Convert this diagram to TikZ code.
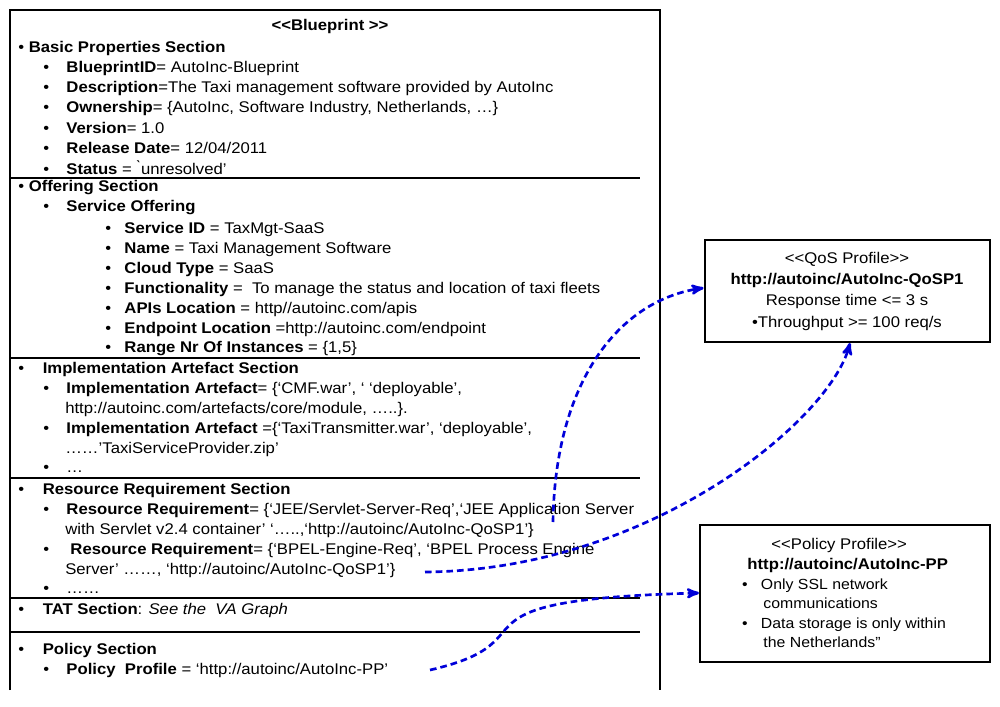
\documentclass[tikz,border=0pt]{standalone}
\usepackage{fontspec}
\setmainfont{Liberation Sans}[FakeStretch=1.08]
\usetikzlibrary{positioning,arrows,calc}

\begin{document}
\begin{tikzpicture}[
      x=0.75pt, y=-0.75pt,
      >=stealth',
      every node/.style={font=\fontsize{11.6}{14}\selectfont, inner sep=0pt},
      txt/.style={anchor=west},
      link/.style={->, draw=blue!85!black, line width=2pt, dash pattern=on 5pt off 3pt}
    ]

    \useasboundingbox (0,0) rectangle (1000,707);

    % blueprint frame
    \draw [line width=1.5pt] (10,690) -- (10,10) -- (660,10) -- (660,690);
    \foreach \ly in {178,358,478,598,632}
      \draw [line width=1pt] (10,\ly) -- (640,\ly);

    \node (title) at (330,26) {\textbf{{<}{<}Blueprint {>}{>}}};

    % basic properties
    \node [txt] (basic) at (18,48) {\textbullet\ \textbf{Basic Properties Section}};
    \node [txt] (bp1) at (43,68) {\textbullet\hspace{13pt}\textbf{BlueprintID}= AutoInc-Blueprint};
    \node [txt] (bp2) at (43,88) {\textbullet\hspace{13pt}\textbf{Description}=The Taxi management software provided by AutoInc};
    \node [txt] (bp3) at (43,108) {\textbullet\hspace{13pt}\textbf{Ownership}= \{AutoInc, Software Industry, Netherlands, \ldots\}};
    \node [txt] (bp4) at (43,128) {\textbullet\hspace{13pt}\textbf{Version}= 1.0};
    \node [txt] (bp5) at (43,148) {\textbullet\hspace{13pt}\textbf{Release Date}= 12/04/2011};
    \node [txt] (bp6) at (43,168) {\textbullet\hspace{13pt}\textbf{Status} = \`{}unresolved'};

    % offering
    \node [txt] (offer) at (18,188) {\textbullet\ \textbf{Offering Section}};
    \node [txt] (so) at (43,208) {\textbullet\hspace{13pt}\textbf{Service Offering}};
    \node [txt] (of1) at (105,229) {\textbullet\hspace{10pt}\textbf{Service ID} = TaxMgt-SaaS};
    \node [txt] (of2) at (105,249) {\textbullet\hspace{10pt}\textbf{Name} = Taxi Management Software};
    \node [txt] (of3) at (105,269) {\textbullet\hspace{10pt}\textbf{Cloud Type} = SaaS};
    \node [txt] (of4) at (105,289) {\textbullet\hspace{10pt}\textbf{Functionality} =\ \ To manage the status and location of taxi fleets};
    \node [txt] (of5) at (105,309) {\textbullet\hspace{10pt}\textbf{APIs Location} = http//autoinc.com/apis};
    \node [txt] (of6) at (105,329) {\textbullet\hspace{10pt}\textbf{Endpoint Location} =http://autoinc.com/endpoint};
    \node [txt] (of7) at (105,349) {\textbullet\hspace{10pt}\textbf{Range Nr Of Instances} = \{1,5\}};

    % implementation
    \node [txt] (impl) at (18,369) {\textbullet\hspace{14pt}\textbf{Implementation Artefact Section}};
    \node [txt] (im1) at (43,389) {\textbullet\hspace{13pt}\textbf{Implementation Artefact}= \{`CMF.war', ` `deployable',};
    \node [txt] (im1b) at (65,409) {http://autoinc.com/artefacts/core/module, \ldots..\}.};
    \node [txt] (im2) at (43,429) {\textbullet\hspace{13pt}\textbf{Implementation Artefact} =\{`TaxiTransmitter.war', `deployable',};
    \node [txt] (im2b) at (65,449) {\ldots\ldots'TaxiServiceProvider.zip'};
    \node [txt] (im3) at (43,469) {\textbullet\hspace{13pt}\ldots};

    % resources
    \node [txt] (res) at (18,490) {\textbullet\hspace{14pt}\textbf{Resource Requirement Section}};
    \node [txt] (rr1) at (43,510) {\textbullet\hspace{13pt}\textbf{Resource Requirement}= \{`JEE/Servlet-Server-Req',`JEE Application Server};
    \node [txt] (rr1b) at (65,530) {with Servlet v2.4 container' `\ldots..,`http://autoinc/AutoInc-QoSP1'\}};
    \node [txt] (rr2) at (43,550) {\textbullet\hspace{16pt}\textbf{Resource Requirement}= \{`BPEL-Engine-Req', `BPEL Process Engine};
    \node [txt] (rr2b) at (65,570) {Server' \ldots\ldots, `http://autoinc/AutoInc-QoSP1'\}};
    \node [txt] (rr3) at (43,590) {\textbullet\hspace{13pt}\ldots\ldots};

    % TAT and policy
    \node [txt] (tat) at (18,610) {\textbullet\hspace{14pt}\textbf{TAT Section}: \textit{See the\ \ VA Graph}};
    \node [txt] (pol) at (18,650) {\textbullet\hspace{14pt}\textbf{Policy Section}};
    \node [txt] (pp) at (43,670) {\textbullet\hspace{13pt}\textbf{Policy\ \ Profile} = `http://autoinc/AutoInc-PP'};

    % profiles
    \node [draw, line width=1.5pt, minimum width=285*0.75pt, minimum height=102*0.75pt, align=center] (qos) at (847,291)
      {{<}{<}QoS Profile{>}{>}\\[2pt] \textbf{http://autoinc/AutoInc-QoSP1}\\[2pt] Response time <= 3 s\\[2pt] \textbullet Throughput >= 100 req/s};
    \node [draw, line width=1.5pt, minimum width=290*0.75pt, minimum height=137*0.75pt, align=left, inner sep=5pt] (policy) at (845,593)
      {\hspace{22pt}{<}{<}Policy Profile{>}{>}\\[1pt]
       \hspace{4pt}\textbf{http://autoinc/AutoInc-PP}\\[1pt]
       {\fontsize{11}{13.5}\selectfont \textbullet\hspace{10pt}Only SSL network}\\
       {\fontsize{11}{13.5}\selectfont \hspace{16pt}communications}\\[1pt]
       {\fontsize{11}{13.5}\selectfont \textbullet\hspace{10pt}Data storage is only within}\\
       {\fontsize{11}{13.5}\selectfont \hspace{16pt}the Netherlands''}};

    % links
    \coordinate (s1) at (553,522);
    \coordinate (s2) at (425,572);
    \coordinate (s3) at (430,670);
    \draw [link] (s1) .. controls (555,380) and (620,300) .. ($(qos.west)+(0,-3)$);
    \draw [link] (s2) .. controls (650,570) and (830,420) .. ($(qos.south)+(3,0)$);
    \draw [link] (s3) .. controls (560,640) and (430,600) .. ($(policy.west)+(0,0)$);

\end{tikzpicture}
\end{document}
